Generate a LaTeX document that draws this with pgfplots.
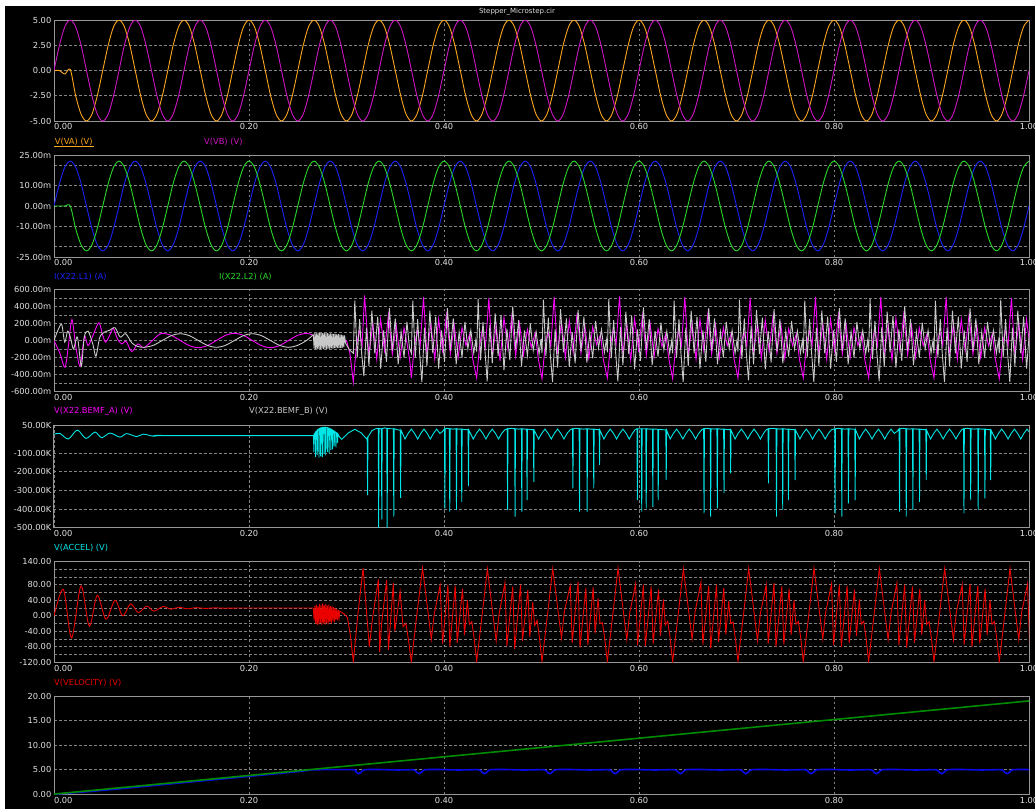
\documentclass[border=0pt]{standalone}
\usepackage{fontspec}
\setmainfont{DejaVu Sans}
\usepackage{pgfplots}
\usepackage{pgfplotstable}
\pgfplotsset{compat=1.18}
\definecolor{framec}{RGB}{150,150,150}
\definecolor{gridc}{RGB}{130,130,130}
\definecolor{tickc}{RGB}{225,225,225}
\definecolor{vac}{RGB}{250,165,30}
\definecolor{vbc}{RGB}{205,20,195}
\definecolor{i1c}{RGB}{25,35,245}
\definecolor{i2c}{RGB}{40,215,40}
\definecolor{bac}{RGB}{250,0,250}
\definecolor{bbc}{RGB}{200,200,200}
\definecolor{acc}{RGB}{0,230,230}
\definecolor{velc}{RGB}{235,0,0}
\definecolor{gsixc}{RGB}{0,140,0}
\definecolor{bsixc}{RGB}{10,10,230}
\newcommand{\tfont}{\fontsize{8.3}{10}\selectfont}
\pgfplotsset{
  panel/.style={
    scale only axis, width=975pt, xmin=0, xmax=1, anchor=north west,
    axis line style={draw=framec, line width=1pt},
    xtick={0,0.2,0.4,0.6,0.8,1},
    xticklabels={{\makebox[0pt][l]{0.00}},0.20,0.40,0.60,0.80,1.00},
    major tick length=0pt, minor tick length=0pt,
    xmajorgrids=true, ymajorgrids=false, yminorgrids=true,
    major grid style={draw=gridc, dash pattern=on 2.5pt off 2.5pt, line width=0.8pt},
    minor grid style={draw=gridc, dash pattern=on 2.5pt off 2.5pt, line width=0.8pt},
    tick label style={font=\tfont, text=tickc},
    xticklabel style={inner sep=2.5pt},
    yticklabel style={inner sep=2.5pt},
    every axis plot/.append style={line width=0.9pt, no markers},
  }
}
\pgfplotstableread{
t va vb ia ib
0.0000 0 0 0 0
0.0056 0 2.5 11 0
0.0111 -0.35 4.33 19.05 0
0.0167 0.1 5 22 0
0.0222 -2.5 4.33 19.05 -11
0.0278 -4.33 2.5 11 -19.05
0.0333 -5 0 0 -22
0.0389 -4.33 -2.5 -11 -19.05
0.0444 -2.5 -4.33 -19.05 -11
0.0500 0 -5 -22 0
0.0556 2.5 -4.33 -19.05 11
0.0611 4.33 -2.5 -11 19.05
0.0667 5 0 0 22
0.0722 4.33 2.5 11 19.05
0.0778 2.5 4.33 19.05 11
0.0833 0 5 22 0
0.0889 -2.5 4.33 19.05 -11
0.0944 -4.33 2.5 11 -19.05
0.1000 -5 0 0 -22
0.1056 -4.33 -2.5 -11 -19.05
0.1111 -2.5 -4.33 -19.05 -11
0.1167 0 -5 -22 0
0.1222 2.5 -4.33 -19.05 11
0.1278 4.33 -2.5 -11 19.05
0.1333 5 0 0 22
0.1389 4.33 2.5 11 19.05
0.1444 2.5 4.33 19.05 11
0.1500 0 5 22 0
0.1556 -2.5 4.33 19.05 -11
0.1611 -4.33 2.5 11 -19.05
0.1667 -5 0 0 -22
0.1722 -4.33 -2.5 -11 -19.05
0.1778 -2.5 -4.33 -19.05 -11
0.1833 0 -5 -22 0
0.1889 2.5 -4.33 -19.05 11
0.1944 4.33 -2.5 -11 19.05
0.2000 5 0 0 22
0.2056 4.33 2.5 11 19.05
0.2111 2.5 4.33 19.05 11
0.2167 0 5 22 0
0.2222 -2.5 4.33 19.05 -11
0.2278 -4.33 2.5 11 -19.05
0.2333 -5 0 0 -22
0.2389 -4.33 -2.5 -11 -19.05
0.2444 -2.5 -4.33 -19.05 -11
0.2500 0 -5 -22 0
0.2556 2.5 -4.33 -19.05 11
0.2611 4.33 -2.5 -11 19.05
0.2667 5 0 0 22
0.2722 4.33 2.5 11 19.05
0.2778 2.5 4.33 19.05 11
0.2833 0 5 22 0
0.2889 -2.5 4.33 19.05 -11
0.2944 -4.33 2.5 11 -19.05
0.3000 -5 0 0 -22
0.3056 -4.33 -2.5 -11 -19.05
0.3111 -2.5 -4.33 -19.05 -11
0.3167 0 -5 -22 0
0.3222 2.5 -4.33 -19.05 11
0.3278 4.33 -2.5 -11 19.05
0.3333 5 0 0 22
0.3389 4.33 2.5 11 19.05
0.3444 2.5 4.33 19.05 11
0.3500 0 5 22 0
0.3556 -2.5 4.33 19.05 -11
0.3611 -4.33 2.5 11 -19.05
0.3667 -5 0 0 -22
0.3722 -4.33 -2.5 -11 -19.05
0.3778 -2.5 -4.33 -19.05 -11
0.3833 0 -5 -22 0
0.3889 2.5 -4.33 -19.05 11
0.3944 4.33 -2.5 -11 19.05
0.4000 5 0 0 22
0.4056 4.33 2.5 11 19.05
0.4111 2.5 4.33 19.05 11
0.4167 0 5 22 0
0.4222 -2.5 4.33 19.05 -11
0.4278 -4.33 2.5 11 -19.05
0.4333 -5 0 0 -22
0.4389 -4.33 -2.5 -11 -19.05
0.4444 -2.5 -4.33 -19.05 -11
0.4500 0 -5 -22 0
0.4556 2.5 -4.33 -19.05 11
0.4611 4.33 -2.5 -11 19.05
0.4667 5 0 0 22
0.4722 4.33 2.5 11 19.05
0.4778 2.5 4.33 19.05 11
0.4833 0 5 22 0
0.4889 -2.5 4.33 19.05 -11
0.4944 -4.33 2.5 11 -19.05
0.5000 -5 0 0 -22
0.5056 -4.33 -2.5 -11 -19.05
0.5111 -2.5 -4.33 -19.05 -11
0.5167 0 -5 -22 0
0.5222 2.5 -4.33 -19.05 11
0.5278 4.33 -2.5 -11 19.05
0.5333 5 0 0 22
0.5389 4.33 2.5 11 19.05
0.5444 2.5 4.33 19.05 11
0.5500 0 5 22 0
0.5556 -2.5 4.33 19.05 -11
0.5611 -4.33 2.5 11 -19.05
0.5667 -5 0 0 -22
0.5722 -4.33 -2.5 -11 -19.05
0.5778 -2.5 -4.33 -19.05 -11
0.5833 0 -5 -22 0
0.5889 2.5 -4.33 -19.05 11
0.5944 4.33 -2.5 -11 19.05
0.6000 5 0 0 22
0.6056 4.33 2.5 11 19.05
0.6111 2.5 4.33 19.05 11
0.6167 0 5 22 0
0.6222 -2.5 4.33 19.05 -11
0.6278 -4.33 2.5 11 -19.05
0.6333 -5 0 0 -22
0.6389 -4.33 -2.5 -11 -19.05
0.6444 -2.5 -4.33 -19.05 -11
0.6500 0 -5 -22 0
0.6556 2.5 -4.33 -19.05 11
0.6611 4.33 -2.5 -11 19.05
0.6667 5 0 0 22
0.6722 4.33 2.5 11 19.05
0.6778 2.5 4.33 19.05 11
0.6833 0 5 22 0
0.6889 -2.5 4.33 19.05 -11
0.6944 -4.33 2.5 11 -19.05
0.7000 -5 0 0 -22
0.7056 -4.33 -2.5 -11 -19.05
0.7111 -2.5 -4.33 -19.05 -11
0.7167 0 -5 -22 0
0.7222 2.5 -4.33 -19.05 11
0.7278 4.33 -2.5 -11 19.05
0.7333 5 0 0 22
0.7389 4.33 2.5 11 19.05
0.7444 2.5 4.33 19.05 11
0.7500 0 5 22 0
0.7556 -2.5 4.33 19.05 -11
0.7611 -4.33 2.5 11 -19.05
0.7667 -5 0 0 -22
0.7722 -4.33 -2.5 -11 -19.05
0.7778 -2.5 -4.33 -19.05 -11
0.7833 0 -5 -22 0
0.7889 2.5 -4.33 -19.05 11
0.7944 4.33 -2.5 -11 19.05
0.8000 5 0 0 22
0.8056 4.33 2.5 11 19.05
0.8111 2.5 4.33 19.05 11
0.8167 0 5 22 0
0.8222 -2.5 4.33 19.05 -11
0.8278 -4.33 2.5 11 -19.05
0.8333 -5 0 0 -22
0.8389 -4.33 -2.5 -11 -19.05
0.8444 -2.5 -4.33 -19.05 -11
0.8500 0 -5 -22 0
0.8556 2.5 -4.33 -19.05 11
0.8611 4.33 -2.5 -11 19.05
0.8667 5 0 0 22
0.8722 4.33 2.5 11 19.05
0.8778 2.5 4.33 19.05 11
0.8833 0 5 22 0
0.8889 -2.5 4.33 19.05 -11
0.8944 -4.33 2.5 11 -19.05
0.9000 -5 0 0 -22
0.9056 -4.33 -2.5 -11 -19.05
0.9111 -2.5 -4.33 -19.05 -11
0.9167 0 -5 -22 0
0.9222 2.5 -4.33 -19.05 11
0.9278 4.33 -2.5 -11 19.05
0.9333 5 0 0 22
0.9389 4.33 2.5 11 19.05
0.9444 2.5 4.33 19.05 11
0.9500 0 5 22 0
0.9556 -2.5 4.33 19.05 -11
0.9611 -4.33 2.5 11 -19.05
0.9667 -5 0 0 -22
0.9722 -4.33 -2.5 -11 -19.05
0.9778 -2.5 -4.33 -19.05 -11
0.9833 0 -5 -22 0
0.9889 2.5 -4.33 -19.05 11
0.9944 4.33 -2.5 -11 19.05
1.0000 5 0 0 22
}\tabA
\pgfplotstableread{
t v
0.0000 0
0.0060 -150
0.0113 -314
0.0150 -40
0.0184 247
0.0225 -80
0.0267 -304
0.0300 -40
0.0318 50
0.0350 -60
0.0400 60
0.0460 208
0.0500 60
0.0530 -20
0.0570 60
0.0608 141
0.0650 20
0.0694 -40
0.0740 -10
0.0797 -130
0.0860 -40
0.0920 -85
0.1000 -10
0.1060 55
0.1110 85
0.1203 60
0.1295 0
0.1388 -60
0.1480 -85
0.1573 -60
0.1665 0
0.1758 60
0.1850 85
0.1943 60
0.2035 0
0.2128 -60
0.2220 -85
0.2313 -60
0.2405 0
0.2498 60
0.2590 85
0.2650 65
}\tabBAa
\pgfplotstableread{
t v
0.2650 65
0.2680 10
0.2720 -15
0.2760 10
0.2800 -10
0.2840 15
0.2880 -10
0.2920 10
0.2960 -5
0.3000 0
0.3035 -150
0.3070 -490
0.3100 -80
0.3130 120
0.3160 -60
0.3185 530
0.3230 -180
0.3270 200
0.3310 -220
0.3350 250
0.3390 -120
0.3430 300
0.3470 -160
0.3510 180
0.3550 -200
0.3590 150
0.3625 -60
0.3650 -250
0.3665 -440
0.3695 -80
0.3725 120
0.3755 -60
0.3790 510
0.3825 -180
0.3865 200
0.3905 -220
0.3945 250
0.3985 -120
0.4025 300
0.4065 -160
0.4105 180
0.4145 -200
0.4185 150
0.4225 -60
0.4265 80
0.4295 -220
0.4335 -440
0.4365 -60
0.4395 140
0.4425 -80
0.4460 500
0.4495 -200
0.4535 180
0.4575 -240
0.4615 270
0.4655 -100
0.4695 280
0.4735 -180
0.4775 200
0.4815 -170
0.4855 130
0.4895 -80
0.4935 90
0.4965 -200
0.5005 -450
0.5035 -90
0.5065 110
0.5095 -70
0.5130 510
0.5165 -160
0.5205 220
0.5245 -200
0.5285 230
0.5325 -140
0.5365 320
0.5405 -150
0.5445 170
0.5485 -210
0.5525 160
0.5565 -50
0.5605 70
0.5635 -230
0.5675 -440
0.5705 -80
0.5735 130
0.5765 -50
0.5800 520
0.5835 -190
0.5875 190
0.5915 -230
0.5955 260
0.5995 -110
0.6035 290
0.6075 -170
0.6115 190
0.6155 -190
0.6195 140
0.6235 -70
0.6275 80
0.6305 -210
0.6345 -450
0.6375 -80
0.6405 120
0.6435 -60
0.6470 510
0.6505 -180
0.6545 200
0.6585 -220
0.6625 250
0.6665 -120
0.6705 300
0.6745 -160
0.6785 180
0.6825 -200
0.6865 150
0.6905 -60
0.6945 80
0.6975 -220
0.7015 -440
0.7045 -70
0.7075 110
0.7105 -70
0.7140 500
0.7175 -170
0.7215 210
0.7255 -210
0.7295 240
0.7335 -130
0.7375 290
0.7415 -150
0.7455 190
0.7495 -210
0.7535 140
0.7575 -60
0.7615 80
0.7645 -220
0.7685 -440
0.7715 -80
0.7745 120
0.7775 -60
0.7810 510
0.7845 -180
0.7885 200
0.7925 -220
0.7965 250
0.8005 -120
0.8045 300
0.8085 -160
0.8125 180
0.8165 -200
0.8205 150
0.8245 -60
0.8285 80
0.8315 -220
0.8355 -440
0.8385 -90
0.8415 130
0.8445 -60
0.8480 510
0.8515 -190
0.8555 190
0.8595 -230
0.8635 260
0.8675 -110
0.8715 300
0.8755 -170
0.8795 170
0.8835 -200
0.8875 150
0.8915 -60
0.8955 80
0.8985 -220
0.9025 -440
0.9055 -80
0.9085 120
0.9115 -60
0.9150 510
0.9185 -180
0.9225 200
0.9265 -220
0.9305 250
0.9345 -120
0.9385 300
0.9425 -160
0.9465 180
0.9505 -200
0.9545 150
0.9585 -60
0.9625 80
0.9655 -220
0.9695 -450
0.9725 -80
0.9755 120
0.9785 -60
0.9820 500
0.9855 -180
0.9895 200
0.9935 -220
0.9975 250
1.0015 -120
}\tabBAb
\pgfplotstableread{
t v
0.0000 0
0.0040 120
0.0079 188
0.0110 -20
0.0140 110
0.0170 30
0.0200 -100
0.0240 40
0.0280 -302
0.0310 40
0.0350 110
0.0400 -50
0.0430 -185
0.0470 40
0.0520 100
0.0570 120
0.0626 150
0.0680 40
0.0735 80
0.0800 -30
0.0860 -70
0.0925 -80
0.1018 -57
0.1110 0
0.1203 57
0.1295 80
0.1388 57
0.1480 0
0.1573 -57
0.1665 -80
0.1758 -57
0.1850 0
0.1943 57
0.2035 80
0.2128 57
0.2220 0
0.2313 -57
0.2405 -80
0.2498 -57
0.2590 0
0.2660 70
}\tabBBa
\pgfplotstableread{
t v
0.2660 70
0.2668 -95
0.2676 90
0.2684 -100
0.2692 85
0.2700 -105
0.2708 92
0.2716 -98
0.2724 88
0.2732 -102
0.2740 90
0.2748 -95
0.2756 86
0.2764 -100
0.2772 90
0.2780 -96
0.2788 84
0.2796 -100
0.2804 88
0.2812 -94
0.2820 82
0.2828 -98
0.2836 85
0.2844 -92
0.2852 80
0.2860 -95
0.2868 78
0.2876 -90
0.2884 80
0.2892 -92
0.2900 75
0.2908 -88
0.2916 76
0.2924 -90
0.2932 70
0.2940 -85
0.2948 68
0.2956 -86
0.2964 65
0.2972 -80
0.2980 60
0.2990 -30
0.3030 -110
0.3070 -150
0.3085 470
0.3110 -200
0.3135 250
0.3155 -150
0.3178 -420
0.3205 150
0.3230 -300
0.3260 350
0.3290 -150
0.3320 280
0.3350 -330
0.3380 120
0.3410 -250
0.3440 380
0.3470 -120
0.3500 260
0.3530 -280
0.3560 100
0.3590 -200
0.3620 220
0.3645 -80
0.3665 -150
0.3680 470
0.3705 -200
0.3730 250
0.3750 -150
0.3773 -490
0.3800 150
0.3825 -300
0.3855 350
0.3885 -150
0.3915 280
0.3945 -330
0.3975 120
0.4005 -250
0.4035 380
0.4065 -120
0.4095 260
0.4125 -280
0.4155 100
0.4185 -200
0.4215 220
0.4245 -100
0.4275 120
0.4305 -150
0.4325 0
0.4335 -130
0.4350 490
0.4375 -230
0.4400 220
0.4420 -120
0.4443 -480
0.4470 180
0.4495 -270
0.4525 320
0.4555 -180
0.4585 300
0.4615 -350
0.4645 140
0.4675 -230
0.4705 400
0.4735 -100
0.4765 240
0.4795 -300
0.4825 120
0.4855 -180
0.4885 200
0.4915 -120
0.4945 100
0.4975 -160
0.4995 20
0.5005 -150
0.5020 480
0.5045 -180
0.5070 270
0.5090 -160
0.5113 -490
0.5140 130
0.5165 -320
0.5195 370
0.5225 -140
0.5255 260
0.5285 -310
0.5315 100
0.5345 -270
0.5375 360
0.5405 -130
0.5435 280
0.5465 -260
0.5495 90
0.5525 -210
0.5555 230
0.5585 -90
0.5615 130
0.5645 -140
0.5665 10
0.5675 -140
0.5690 490
0.5715 -210
0.5740 240
0.5760 -140
0.5783 -480
0.5810 160
0.5835 -290
0.5865 340
0.5895 -160
0.5925 290
0.5955 -340
0.5985 130
0.6015 -240
0.6045 390
0.6075 -110
0.6105 250
0.6135 -290
0.6165 110
0.6195 -190
0.6225 210
0.6255 -110
0.6285 110
0.6315 -150
0.6335 0
0.6345 -150
0.6360 470
0.6385 -200
0.6410 250
0.6430 -150
0.6453 -490
0.6480 150
0.6505 -300
0.6535 350
0.6565 -150
0.6595 280
0.6625 -330
0.6655 120
0.6685 -250
0.6715 380
0.6745 -120
0.6775 260
0.6805 -280
0.6835 100
0.6865 -200
0.6895 220
0.6925 -100
0.6955 120
0.6985 -150
0.7005 0
0.7015 -130
0.7030 480
0.7055 -220
0.7080 260
0.7100 -140
0.7123 -470
0.7150 170
0.7175 -280
0.7205 360
0.7235 -160
0.7265 270
0.7295 -340
0.7325 110
0.7355 -260
0.7385 370
0.7415 -130
0.7445 250
0.7475 -270
0.7505 110
0.7535 -190
0.7565 230
0.7595 -100
0.7625 110
0.7655 -150
0.7675 0
0.7685 -150
0.7700 470
0.7725 -200
0.7750 250
0.7770 -150
0.7793 -490
0.7820 150
0.7845 -300
0.7875 350
0.7905 -150
0.7935 280
0.7965 -330
0.7995 120
0.8025 -250
0.8055 380
0.8085 -120
0.8115 260
0.8145 -280
0.8175 100
0.8205 -200
0.8235 220
0.8265 -100
0.8295 120
0.8325 -150
0.8345 0
0.8355 -140
0.8370 490
0.8395 -220
0.8420 230
0.8440 -150
0.8463 -480
0.8490 160
0.8515 -310
0.8545 340
0.8575 -140
0.8605 290
0.8635 -320
0.8665 130
0.8695 -240
0.8725 400
0.8755 -120
0.8785 250
0.8815 -290
0.8845 100
0.8875 -200
0.8905 210
0.8935 -100
0.8965 120
0.8995 -150
0.9015 0
0.9025 -150
0.9040 470
0.9065 -200
0.9090 250
0.9110 -150
0.9133 -490
0.9160 150
0.9185 -300
0.9215 350
0.9245 -150
0.9275 280
0.9305 -330
0.9335 120
0.9365 -250
0.9395 380
0.9425 -120
0.9455 260
0.9485 -280
0.9515 100
0.9545 -200
0.9575 220
0.9605 -100
0.9635 120
0.9665 -150
0.9685 0
0.9695 -150
0.9710 480
0.9735 -200
0.9760 250
0.9780 -150
0.9803 -490
0.9830 150
0.9855 -300
0.9885 350
0.9915 -150
0.9945 280
0.9975 -330
1.0005 120
}\tabBBb
\pgfplotstableread{
t v
0.0000 0
0.0060 5
0.0147 -25
0.0239 23
0.0328 -22
0.0420 12
0.0489 -18
0.0574 7
0.0677 -15
0.0745 4
0.0848 -12
0.0916 1
0.1019 -10
0.1087 -5
0.1150 -7
0.2655 -7
}\tabACa
\pgfplotstableread{
t v
0.2655 -7
0.2662 -5
0.2665 -95
0.2668 0
0.2680 10
0.2683 -120
0.2686 12
0.2697 20
0.2700 -110
0.2703 22
0.2715 28
0.2718 -125
0.2721 30
0.2732 33
0.2735 -118
0.2738 34
0.2749 36
0.2752 -122
0.2755 37
0.2767 38
0.2770 -105
0.2773 38
0.2784 38
0.2787 -112
0.2790 38
0.2802 36
0.2805 -95
0.2808 35
0.2819 33
0.2822 -100
0.2825 32
0.2837 29
0.2840 -85
0.2843 28
0.2854 24
0.2857 -80
0.2860 22
0.2871 18
0.2874 -65
0.2877 16
0.2889 11
0.2892 -70
0.2895 9
0.2906 4
0.2909 -45
0.2912 2
0.2930 -15
0.2950 -27
0.3020 8
0.3085 27
0.3150 8
0.3207 -25
0.3212 -20
0.3216 -325
0.3220 -15
0.3260 20
0.3300 30
0.3326 32
0.3330 -500
0.3334 32
0.3358 30
0.3362 -455
0.3366 30
0.3390 35
0.3413 32
0.3417 -500
0.3421 32
0.3450 30
0.3481 30
0.3485 -440
0.3489 30
0.3520 25
0.3551 22
0.3555 -340
0.3559 22
0.3600 -25
0.3632 5
0.3665 28
0.3698 5
0.3730 -25
0.3762 5
0.3795 28
0.3828 5
0.3860 -25
0.3892 5
0.3925 28
0.3958 5
0.3985 15
0.4005 30
0.4009 -396
0.4013 30
0.4035 32
0.4055 30
0.4059 -414
0.4063 30
0.4095 28
0.4124 30
0.4128 -405
0.4132 30
0.4155 28
0.4178 28
0.4182 -361
0.4186 28
0.4220 25
0.4247 25
0.4251 -277
0.4255 22
0.4300 -25
0.4332 5
0.4365 28
0.4398 5
0.4430 -25
0.4462 5
0.4495 28
0.4528 5
0.4560 -25
0.4592 5
0.4625 25
0.4648 30
0.4652 -405
0.4656 30
0.4690 32
0.4725 30
0.4729 -441
0.4733 30
0.4765 28
0.4794 30
0.4798 -414
0.4802 30
0.4825 28
0.4848 28
0.4852 -352
0.4856 28
0.4890 25
0.4917 25
0.4921 -254
0.4925 22
0.4970 -25
0.5002 5
0.5035 28
0.5068 5
0.5100 -25
0.5132 5
0.5165 28
0.5198 5
0.5230 -25
0.5262 5
0.5295 25
0.5318 30
0.5322 -290
0.5326 30
0.5360 32
0.5386 30
0.5390 -414
0.5394 30
0.5430 28
0.5464 30
0.5468 -414
0.5472 30
0.5500 28
0.5532 28
0.5536 -290
0.5540 28
0.5570 25
0.5591 25
0.5595 -164
0.5599 22
0.5640 -25
0.5672 5
0.5705 28
0.5738 5
0.5770 -25
0.5802 5
0.5835 28
0.5868 5
0.5900 -25
0.5932 5
0.5960 25
0.5979 30
0.5983 -352
0.5987 30
0.6024 30
0.6028 -414
0.6032 30
0.6070 30
0.6074 -396
0.6078 30
0.6110 28
0.6138 28
0.6142 -388
0.6146 28
0.6170 28
0.6193 27
0.6197 -352
0.6201 27
0.6240 25
0.6275 24
0.6279 -245
0.6283 22
0.6320 -25
0.6352 5
0.6385 28
0.6418 5
0.6450 -25
0.6482 5
0.6515 28
0.6548 5
0.6580 -25
0.6612 5
0.6645 25
0.6663 30
0.6667 -423
0.6671 30
0.6700 32
0.6731 30
0.6735 -441
0.6739 30
0.6770 28
0.6799 30
0.6803 -396
0.6807 30
0.6840 28
0.6868 28
0.6872 -316
0.6876 28
0.6910 25
0.6936 25
0.6940 -209
0.6944 22
0.6985 -25
0.7017 5
0.7050 28
0.7083 5
0.7115 -25
0.7147 5
0.7180 28
0.7213 5
0.7245 -25
0.7277 5
0.7305 25
0.7324 30
0.7328 -263
0.7332 30
0.7370 32
0.7406 30
0.7410 -441
0.7414 30
0.7445 28
0.7470 30
0.7474 -405
0.7478 30
0.7505 28
0.7529 28
0.7533 -352
0.7537 28
0.7570 25
0.7597 25
0.7601 -245
0.7605 22
0.7650 -25
0.7682 5
0.7715 28
0.7748 5
0.7780 -25
0.7812 5
0.7845 28
0.7878 5
0.7910 -25
0.7942 5
0.7975 25
0.8007 30
0.8011 -423
0.8015 30
0.8045 32
0.8076 30
0.8080 -441
0.8084 30
0.8115 28
0.8144 30
0.8148 -370
0.8152 30
0.8185 28
0.8213 27
0.8217 -352
0.8221 25
0.8260 -25
0.8292 5
0.8325 28
0.8358 5
0.8390 -25
0.8422 5
0.8455 28
0.8488 5
0.8520 -25
0.8552 5
0.8585 28
0.8618 5
0.8645 15
0.8668 30
0.8672 -414
0.8676 30
0.8710 32
0.8737 30
0.8741 -441
0.8745 30
0.8775 28
0.8805 30
0.8809 -405
0.8813 30
0.8845 28
0.8873 28
0.8877 -361
0.8881 28
0.8915 25
0.8942 25
0.8946 -245
0.8950 22
0.8990 -25
0.9022 5
0.9055 28
0.9088 5
0.9120 -25
0.9152 5
0.9185 28
0.9218 5
0.9250 -25
0.9282 5
0.9310 25
0.9329 30
0.9333 -423
0.9337 30
0.9370 32
0.9398 30
0.9402 -352
0.9406 30
0.9440 28
0.9475 30
0.9479 -405
0.9483 30
0.9515 28
0.9544 28
0.9548 -343
0.9552 28
0.9580 25
0.9603 25
0.9607 -245
0.9611 22
0.9655 -25
0.9687 5
0.9720 28
0.9753 5
0.9785 -25
0.9817 5
0.9850 28
0.9883 5
0.9915 -25
0.9947 5
0.9980 28
1.0013 5
}\tabACb
\pgfplotstableread{
t v
0.0000 0
0.0096 68
0.0180 -57
0.0277 77
0.0362 -27
0.0444 53
0.0533 -9
0.0626 40
0.0705 0
0.0786 31
0.0865 8
0.0950 25
0.1026 12
0.1118 24
0.1200 17
0.1280 22
0.1370 18
0.1460 21
0.1550 19
0.1650 20.5
0.1750 19.5
0.1900 20
0.2660 20
}\tabVLa
\pgfplotstableread{
t v
0.2660 20
0.2668 -12
0.2676 26
0.2684 -20
0.2692 28
0.2700 -24
0.2708 25
0.2716 -22
0.2724 30
0.2732 -18
0.2740 27
0.2748 -24
0.2756 32
0.2764 -20
0.2772 28
0.2780 -23
0.2788 30
0.2796 -18
0.2804 26
0.2812 -22
0.2820 29
0.2828 -16
0.2836 25
0.2844 -20
0.2852 24
0.2860 -14
0.2868 22
0.2876 -17
0.2884 20
0.2892 -10
0.2900 18
0.2908 -12
0.2916 15
0.2924 -6
0.2932 12
0.2955 8
0.2985 3
0.3010 -5
0.3040 -50
0.3070 -119
0.3115 0
0.3170 123
0.3234 -80
0.3265 -10
0.3327 94
0.3340 -93
0.3360 -20
0.3412 92
0.3430 -88
0.3480 84
0.3495 -40
0.3550 62
0.3580 -28
0.3610 -20
0.3640 -70
0.3665 -119
0.3720 0
0.3780 123
0.3870 -61
0.3900 5
0.3960 79
0.3986 -72
0.4040 80
0.4060 -80
0.4115 78
0.4135 -70
0.4190 70
0.4210 -50
0.4240 40
0.4260 -22
0.4285 -15
0.4310 -60
0.4335 -118
0.4390 0
0.4445 121
0.4535 -65
0.4565 5
0.4625 85
0.4645 -78
0.4705 75
0.4725 -85
0.4785 80
0.4805 -65
0.4860 66
0.4880 -55
0.4910 35
0.4930 -25
0.4955 -12
0.4980 -58
0.5005 -119
0.5060 0
0.5115 122
0.5205 -58
0.5235 12
0.5295 78
0.5315 -70
0.5375 88
0.5395 -82
0.5455 72
0.5475 -75
0.5530 74
0.5550 -45
0.5580 45
0.5600 -20
0.5625 -18
0.5650 -62
0.5675 -118
0.5730 0
0.5785 123
0.5875 -62
0.5905 8
0.5965 82
0.5985 -76
0.6045 80
0.6065 -78
0.6125 76
0.6145 -72
0.6200 68
0.6220 -52
0.6250 42
0.6270 -24
0.6295 -14
0.6320 -60
0.6345 -119
0.6400 0
0.6455 121
0.6545 -60
0.6575 10
0.6635 86
0.6655 -74
0.6715 78
0.6735 -84
0.6795 80
0.6815 -68
0.6870 72
0.6890 -48
0.6920 38
0.6940 -20
0.6965 -16
0.6990 -62
0.7015 -118
0.7070 0
0.7125 122
0.7215 -64
0.7245 6
0.7305 80
0.7325 -72
0.7385 84
0.7405 -80
0.7465 76
0.7485 -74
0.7540 70
0.7560 -50
0.7590 40
0.7610 -22
0.7635 -15
0.7660 -60
0.7685 -119
0.7740 0
0.7795 123
0.7885 -60
0.7915 10
0.7975 82
0.7995 -75
0.8055 80
0.8075 -80
0.8135 78
0.8155 -70
0.8210 68
0.8230 -52
0.8260 42
0.8280 -22
0.8305 -14
0.8330 -60
0.8355 -118
0.8410 0
0.8465 122
0.8555 -62
0.8585 8
0.8645 84
0.8665 -76
0.8725 80
0.8745 -82
0.8805 76
0.8825 -70
0.8880 70
0.8900 -50
0.8930 40
0.8950 -22
0.8975 -15
0.9000 -60
0.9025 -119
0.9080 0
0.9135 122
0.9225 -62
0.9255 10
0.9315 80
0.9335 -74
0.9395 82
0.9415 -80
0.9475 78
0.9495 -72
0.9550 70
0.9570 -50
0.9600 40
0.9620 -22
0.9645 -15
0.9670 -60
0.9695 -118
0.9750 0
0.9805 122
0.9895 -62
0.9925 10
0.9985 82
1.0005 -72
}\tabVLb
\pgfplotstableread{
t v
0.0000 0
0.0500 0.80
0.1000 1.75
0.1500 2.70
0.2000 3.65
0.2500 4.62
0.2620 4.90
0.2680 5.00
0.3065 5.00
0.3095 4.60
0.3125 4.20
0.3155 4.60
0.3185 5.00
0.3325 5.05
0.3525 4.95
0.3685 5.00
0.3715 4.60
0.3745 4.20
0.3775 4.60
0.3805 5.00
0.3945 5.05
0.4145 4.95
0.4355 5.00
0.4385 4.60
0.4415 4.20
0.4445 4.60
0.4475 5.00
0.4615 5.05
0.4815 4.95
0.5025 5.00
0.5055 4.60
0.5085 4.20
0.5115 4.60
0.5145 5.00
0.5285 5.05
0.5485 4.95
0.5695 5.00
0.5725 4.60
0.5755 4.20
0.5785 4.60
0.5815 5.00
0.5955 5.05
0.6155 4.95
0.6365 5.00
0.6395 4.60
0.6425 4.20
0.6455 4.60
0.6485 5.00
0.6625 5.05
0.6825 4.95
0.7035 5.00
0.7065 4.60
0.7095 4.20
0.7125 4.60
0.7155 5.00
0.7295 5.05
0.7495 4.95
0.7705 5.00
0.7735 4.60
0.7765 4.20
0.7795 4.60
0.7825 5.00
0.7965 5.05
0.8165 4.95
0.8375 5.00
0.8405 4.60
0.8435 4.20
0.8465 4.60
0.8495 5.00
0.8635 5.05
0.8835 4.95
0.9045 5.00
0.9075 4.60
0.9105 4.20
0.9135 4.60
0.9165 5.00
0.9305 5.05
0.9505 4.95
0.9715 5.00
0.9745 4.60
0.9775 4.20
0.9805 4.60
0.9835 5.00
0.9975 5.05
1.0000 5.00
}\tabBL
\pgfplotstableread{
t v
0.0000 0.05
1.0000 19.00
}\tabGR
\begin{document}
\begin{tikzpicture}
\useasboundingbox (0pt,0pt) rectangle (1035pt,-809pt);
\fill[white] (0pt,0pt) rectangle (1035pt,-809pt);
\fill[black] (5pt,-5.5pt) rectangle (1035pt,-809pt);
\node[text=tickc, font=\fontsize{7}{8}\selectfont] at (517pt,-11.5pt) {Stepper\_Microstep.cir};

% Panel 1
\begin{axis}[panel, at={(54pt,-20pt)}, height=101pt,
  ymin=-5, ymax=5, ytick={-5,-2.5,0,2.5,5},
  yticklabels={-5.00,-2.50,0.00,2.50,5.00}, minor ytick={-2.5,0,2.5}]
\addplot[vac, smooth] table[x=t,y=va]{\tabA};
\addplot[vbc, smooth] table[x=t,y=vb]{\tabA};
\end{axis}
\node[anchor=west, inner sep=0.7pt, text=vac, font=\tfont] (lva) at (54pt,-141.7pt) {V(VA) (V)};
\draw[vac, line width=0.8pt] (lva.south west) -- (lva.south east);
\node[anchor=west, inner sep=0pt, text=vbc, font=\tfont] at (204pt,-141.7pt) {V(VB) (V)};

% Panel 2
\begin{axis}[panel, at={(54pt,-155pt)}, height=102pt,
  ymin=-25, ymax=25, ytick={-25,-10,0,10,25},
  yticklabels={-25.00m,-10.00m,0.00m,10.00m,25.00m}, minor ytick={-20,-10,0,10,20}]
\addplot[i1c, smooth] table[x=t,y=ia]{\tabA};
\addplot[i2c, smooth] table[x=t,y=ib]{\tabA};
\end{axis}
\node[anchor=west, inner sep=0pt, text=i1c, font=\tfont] at (54pt,-277.3pt) {I(X22.L1) (A)};
\node[anchor=west, inner sep=0pt, text=i2c, font=\tfont] at (219pt,-277.3pt) {I(X22.L2) (A)};

% Panel 3
\begin{axis}[panel, at={(54pt,-289.5pt)}, height=102pt,
  ymin=-600, ymax=600, ytick={-600,-400,-200,0,200,400,600},
  yticklabels={-600.00m,-400.00m,-200.00m,0.00m,200.00m,400.00m,600.00m},
  minor ytick={-500,-400,-300,-200,-100,0,100,200,300,400,500}]
\addplot[bac, smooth] table[x=t,y=v]{\tabBAa};
\addplot[bac] table[x=t,y=v]{\tabBAb};
\addplot[bbc, smooth] table[x=t,y=v]{\tabBBa};
\addplot[bbc] table[x=t,y=v]{\tabBBb};
\end{axis}
\node[anchor=west, inner sep=0pt, text=bac, font=\tfont] at (54pt,-411.7pt) {V(X22.BEMF\_A) (V)};
\node[anchor=west, inner sep=0pt, text=bbc, font=\tfont] at (249pt,-411.7pt) {V(X22.BEMF\_B) (V)};

% Panel 4
\begin{axis}[panel, at={(54pt,-425pt)}, height=102.7pt,
  ymin=-500, ymax=50, ytick={-500,-400,-300,-200,-100,50},
  yticklabels={-500.00K,-400.00K,-300.00K,-200.00K,-100.00K,50.00K},
  minor ytick={-400,-300,-200,-100}]
\addplot[acc, smooth] table[x=t,y=v]{\tabACa};
\addplot[acc] table[x=t,y=v]{\tabACb};
\end{axis}
\node[anchor=west, inner sep=0pt, text=acc, font=\tfont] at (54pt,-548pt) {V(ACCEL) (V)};

% Panel 5
\begin{axis}[panel, at={(54pt,-561.5pt)}, height=100.8pt,
  ymin=-120, ymax=140, ytick={-120,-80,-40,0,40,80,140},
  yticklabels={-120.00,-80.00,-40.00,0.00,40.00,80.00,140.00},
  minor ytick={-100,-80,-60,-40,-20,0,20,40,60,80,100,120}]
\addplot[velc, smooth] table[x=t,y=v]{\tabVLa};
\addplot[velc] table[x=t,y=v]{\tabVLb};
\end{axis}
\node[anchor=west, inner sep=0pt, text=velc, font=\tfont] at (54pt,-682.5pt) {V(VELOCITY) (V)};

% Panel 6
\begin{axis}[panel, at={(54pt,-696pt)}, height=98.3pt,
  ymin=0, ymax=20, ytick={0,5,10,15,20},
  yticklabels={0.00,5.00,10.00,15.00,20.00},
  minor ytick={5,10,15}]
\addplot[bsixc, line width=1.6pt, smooth] table[x=t,y=v]{\tabBL};
\addplot[gsixc, line width=1.6pt] table[x=t,y=v]{\tabGR};
\end{axis}
\end{tikzpicture}
\end{document}
